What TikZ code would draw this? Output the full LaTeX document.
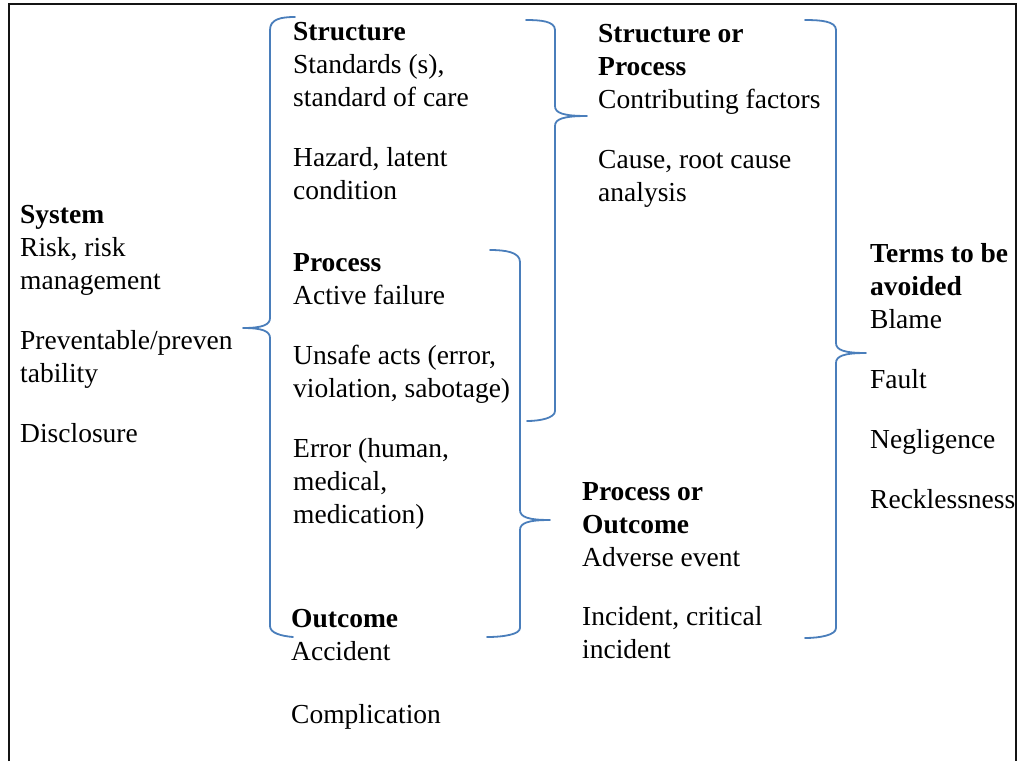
\documentclass[tikz,border=0pt]{standalone}
\usepackage{fontspec}
\setmainfont{Liberation Serif}
\definecolor{braceblue}{RGB}{74,126,187}
\definecolor{framegray}{RGB}{20,20,20}
\newcommand{\blocktext}[1]{\begin{tabular}[t]{@{}l@{}}#1\end{tabular}}
\newcommand{\pgap}{\\[27pt]}
\begin{document}
\begin{tikzpicture}[x=1pt,y=-1pt,
  term/.style={anchor=base west,inner sep=0pt,
    font=\fontsize{27.5}{33}\selectfont},
  brace/.style={draw=braceblue,line width=1.8pt,line cap=round,line join=round},
  frame/.style={draw=framegray,line width=1.7pt}]
\useasboundingbox (0,0) rectangle (1026,761);

% open frame: top edge and the two sides
\draw[frame] (9,761) -- (9,4) -- (1016,4) -- (1016,761);

% term groups
\node[term] (system) at (20,223) {\blocktext{\textbf{System}\\Risk, risk\\management\pgap Preventable/preven\\tability\pgap Disclosure}};
\node[term] (structure) at (293,40) {\blocktext{\textbf{Structure}\\Standards (s),\\standard of care\pgap Hazard, latent\\condition}};
\node[term] (process) at (293,271) {\blocktext{\textbf{Process}\\Active failure\pgap Unsafe acts (error,\\violation, sabotage)\pgap Error (human,\\medical,\\medication)}};
\node[term] (outcome) at (291,627) {\blocktext{\textbf{Outcome}\\Accident\\[30pt]Complication}};
\node[term] (structproc) at (598,42) {\blocktext{\textbf{Structure or}\\\textbf{Process}\\Contributing factors\pgap Cause, root cause\\analysis}};
\node[term] (procout) at (582,500) {\blocktext{\textbf{Process or}\\\textbf{Outcome}\\Adverse event\\[26pt]Incident, critical\\incident}};
\node[term] (avoid) at (870,262) {\blocktext{\textbf{Terms to be}\\\textbf{avoided}\\Blame\pgap Fault\pgap Negligence\pgap Recklessness}};

% brace grouping Structure, Process and Outcome under System
\draw[brace] (295,17) .. controls (281,17) and (270,19) .. (270,30) -- (270,318)
  .. controls (270,325) and (262,328) .. (243,328)
  .. controls (262,328) and (270,331) .. (270,338) -- (270,626)
  .. controls (270,633) and (281,636) .. (293,637);

% brace: Structure + Process -> Structure or Process
\draw[brace] (526,20) .. controls (540,20) and (555,21) .. (555,30) -- (555,106)
  .. controls (555,113) and (563,116) .. (587,116)
  .. controls (563,116) and (555,119) .. (555,126) -- (555,411)
  .. controls (555,418) and (540,421) .. (527,421);

% brace: Process + Outcome -> Process or Outcome
\draw[brace] (490,250) .. controls (505,250) and (520,252) .. (520,262) -- (520,510)
  .. controls (520,517) and (528,520) .. (550,520)
  .. controls (528,520) and (520,523) .. (520,530) -- (520,628)
  .. controls (520,634) and (505,637) .. (487,637);

% brace: both combined groups -> Terms to be avoided
\draw[brace] (805,20) .. controls (820,20) and (836,21) .. (836,30) -- (836,343)
  .. controls (836,350) and (844,353) .. (866,353)
  .. controls (844,353) and (836,356) .. (836,363) -- (836,628)
  .. controls (836,635) and (820,638) .. (805,638);
\end{tikzpicture}
\end{document}
